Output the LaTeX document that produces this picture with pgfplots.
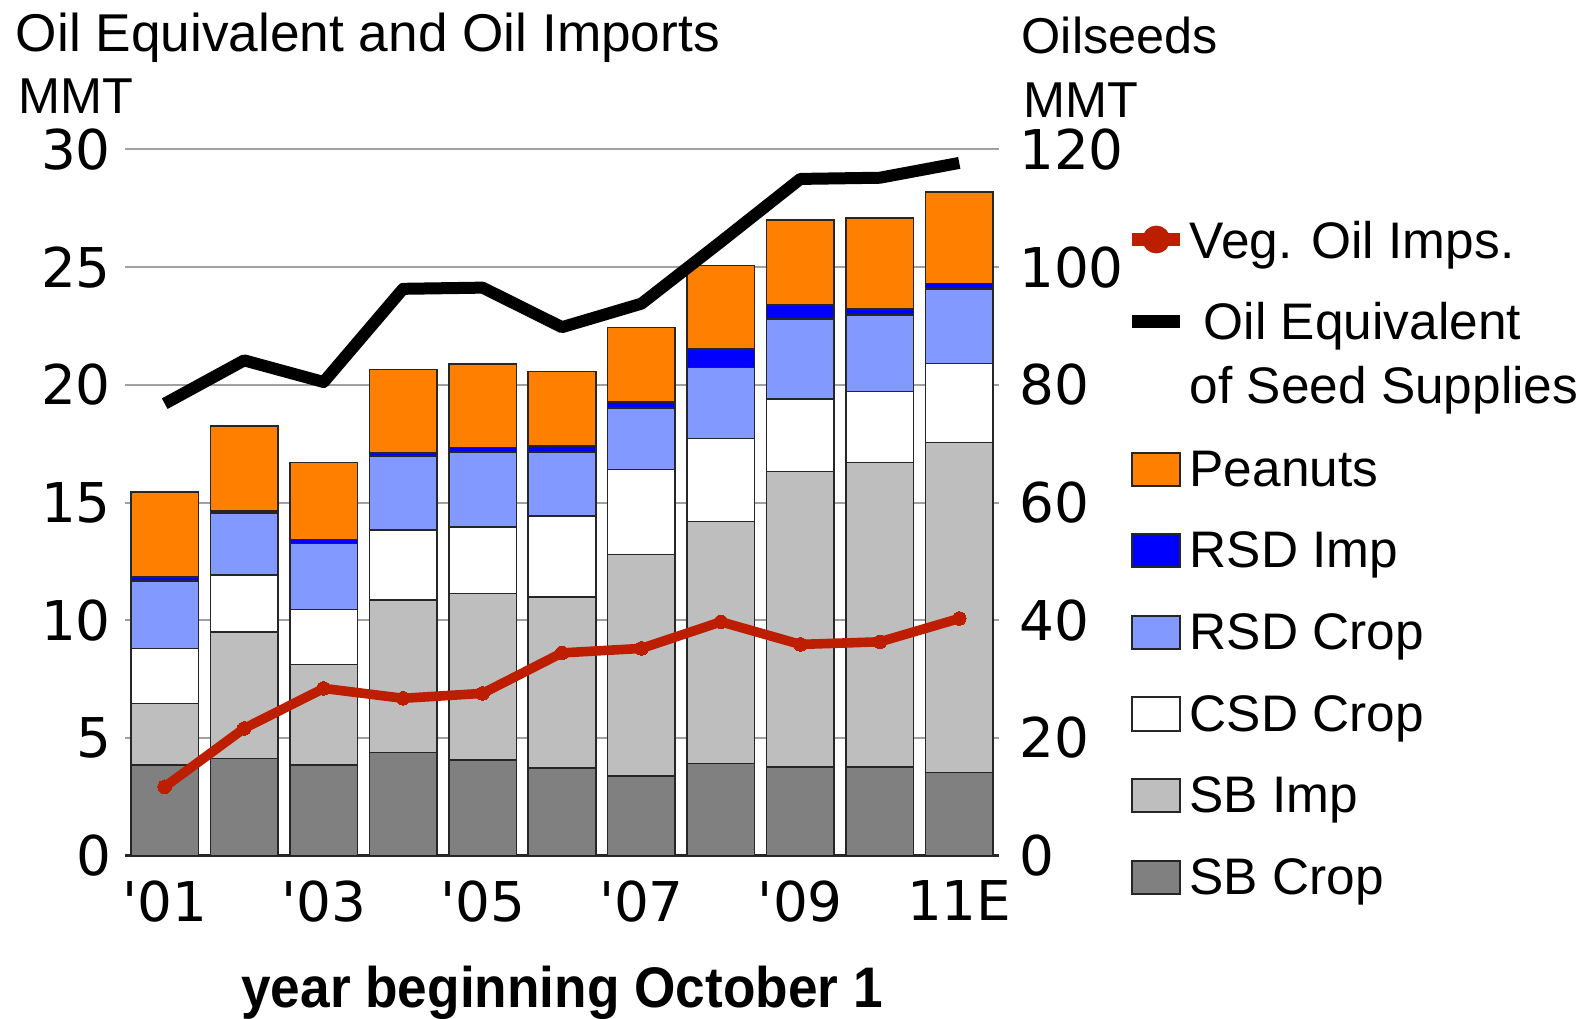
\documentclass[border=0pt]{standalone}
\usepackage{pgfplots}
\pgfplotsset{compat=1.18}
\usepackage{pgfplotstable}
\usepackage{fontspec}
\setmainfont{Liberation Sans}
\newfontfamily\xlabfont[FakeStretch=0.93]{Liberation Sans}
\newfontfamily\tickfam{DejaVu Sans}
\definecolor{sbcrop}{RGB}{128,128,128}
\definecolor{sbimp}{RGB}{190,190,190}
\definecolor{rsdcrop}{RGB}{130,153,255}
\definecolor{rsdimp}{RGB}{0,0,255}
\definecolor{peanut}{RGB}{255,128,0}
\definecolor{vegred}{RGB}{190,30,0}
\definecolor{gridgray}{RGB}{160,160,160}
\newcommand\tickfont{\tickfam\fontsize{13.7}{16}\selectfont}
\newcommand\legfont{\fontsize{12.85}{15}\selectfont}

\pgfplotsset{
  bar legend/.style={legend image code/.code={\draw[##1] (0pt,-4.15pt) rectangle (12pt,4.15pt);}},
  red legend/.style={legend image code/.code={\draw[##1] (0pt,0pt) -- (12pt,0pt); \fill[vegred] (6pt,0pt) circle (1.9pt);}},
  black legend/.style={legend image code/.code={\draw[##1] (0pt,0pt) -- (12pt,0pt);}},
}

\pgfplotstableread{
x sbcrop sbimp csd rsdcrop rsdimp peanut oileq veg
0  3.84  2.62 2.34 2.87 0.17 3.61 19.20 2.92
1  4.13  5.37 2.42 2.64 0.07 3.62 21.04 5.40
2  3.84  4.28 2.33 2.81 0.17 3.27 20.12 7.10
3  4.38  6.47 2.97 3.16 0.12 3.56 24.08 6.68
4  4.06  7.07 2.83 3.19 0.18 3.55 24.13 6.89
5  3.73  7.26 3.44 2.72 0.25 3.17 22.45 8.61
6  3.38  9.41 3.61 2.62 0.25 3.16 23.45 8.80
7  3.91 10.29 3.52 3.01 0.78 3.56 26.08 9.93
8  3.76 12.55 3.10 3.40 0.58 3.62 28.75 8.97
9  3.76 12.94 3.02 3.26 0.23 3.89 28.80 9.08
10 3.53 14.02 3.35 3.16 0.24 3.89 29.43 10.07
}\datatable

\begin{document}
\begin{tikzpicture}
\useasboundingbox (-31.25pt,-40.625pt) rectangle (366.75pt,213.875pt);
% bars
\begin{axis}[
  scale only axis, width=218.5pt, height=176.5pt,
  xmin=-0.5, xmax=10.5, ymin=0, ymax=30,
  ybar stacked, bar width=0.85,
  axis x line*=bottom, axis y line*=left,
  y axis line style={draw=none},
  x axis line style={line width=0.7pt, black!85, -},
  major tick length=0pt,
  xtick={0,2,4,6,8,10},
  xticklabels={\textquotesingle01,\textquotesingle03,\textquotesingle05,\textquotesingle07,\textquotesingle09,11E},
  ytick={0,5,...,30},
  ymajorgrids, major grid style={gridgray, line width=0.5pt},
  tick label style={font=\tickfont},
  /pgf/number format/assume math mode=true,
  xticklabel style={yshift=-2.7pt},
  xlabel={year beginning October 1},
  xlabel style={at={(axis description cs:0.5,0)}, anchor=base, yshift=-38.1pt, inner sep=0pt, font=\fontsize{14.3}{17}\xlabfont\bfseries},
  every axis plot/.append style={draw=black!85, line width=0.4pt},
]
\addplot[fill=sbcrop]  table[x=x,y=sbcrop]{\datatable};
\addplot[fill=sbimp]   table[x=x,y=sbimp]{\datatable};
\addplot[fill=white]   table[x=x,y=csd]{\datatable};
\addplot[fill=rsdcrop] table[x=x,y=rsdcrop]{\datatable};
\addplot[fill=rsdimp]  table[x=x,y=rsdimp]{\datatable};
\addplot[fill=peanut]  table[x=x,y=peanut]{\datatable};
\end{axis}
% lines and legend
\begin{axis}[
  scale only axis, width=218.5pt, height=176.5pt,
  xmin=-0.5, xmax=10.5, ymin=0, ymax=30,
  hide axis, clip=false,
  legend cell align=left,
  legend style={at={(1.1449,0.9303)}, anchor=north west, draw=none, fill=none,
    inner sep=0pt, outer sep=0pt, row sep=0pt, column sep=0.7pt,
    font=\legfont, nodes={inner sep=0pt, text depth={}}},
]
\addplot[black, line width=3pt, line join=round, forget plot] table[x=x,y=oileq]{\datatable};
\addplot[vegred, line width=2.4pt, line join=round, mark=*, mark size=1.7pt, mark options={solid, fill=vegred, draw=vegred, line width=0pt}, forget plot] table[x=x,y=veg]{\datatable};
\addlegendimage{red legend, vegred, line width=3.1pt}
\addlegendentry{\rule[-5.5pt]{0pt}{20.4pt}Veg. Oil Imps.}
\addlegendimage{black legend, black, line width=3.3pt}
\addlegendentry{\rule[-5.5pt]{0pt}{20.4pt}\ Oil Equivalent}
\addlegendimage{empty legend}
\addlegendentry{\rule[-6.3pt]{0pt}{16.6pt}of Seed Supplies}
\addlegendimage{bar legend, fill=peanut, draw=black!85, line width=0.5pt}
\addlegendentry{\rule[-5.9pt]{0pt}{20.4pt}Peanuts}
\addlegendimage{bar legend, fill=rsdimp, draw=black!85, line width=0.5pt}
\addlegendentry{\rule[-5.9pt]{0pt}{20.4pt}RSD Imp}
\addlegendimage{bar legend, fill=rsdcrop, draw=black!85, line width=0.5pt}
\addlegendentry{\rule[-5.9pt]{0pt}{20.4pt}RSD Crop}
\addlegendimage{bar legend, fill=white, draw=black!85, line width=0.5pt}
\addlegendentry{\rule[-5.9pt]{0pt}{20.4pt}CSD Crop}
\addlegendimage{bar legend, fill=sbimp, draw=black!85, line width=0.5pt}
\addlegendentry{\rule[-5.9pt]{0pt}{20.4pt}SB Imp}
\addlegendimage{bar legend, fill=sbcrop, draw=black!85, line width=0.5pt}
\addlegendentry{\rule[-5.9pt]{0pt}{20.4pt}SB Crop}
\end{axis}
% right axis
\begin{axis}[
  scale only axis, width=218.5pt, height=176.5pt,
  xmin=-0.5, xmax=10.5, ymin=0, ymax=120,
  axis x line=none, axis y line*=right,
  y axis line style={draw=none},
  major tick length=0pt,
  ytick={0,20,...,120},
  tick label style={font=\tickfont},
  /pgf/number format/assume math mode=true,
  yticklabel style={xshift=1.5pt},
]
\addplot[draw=none, forget plot] coordinates {(0,0)};
\end{axis}
\node[anchor=base west, inner sep=0pt, font=\fontsize{13.3}{16}\selectfont] at (-27.45pt,201.1pt) {Oil Equivalent and Oil Imports};
\node[anchor=base west, inner sep=0pt, font=\fontsize{12.6}{15}\selectfont] at (-26.7pt,185.55pt) {MMT};
\node[anchor=base west, inner sep=0pt, font=\fontsize{12.6}{15}\selectfont] at (223.95pt,200.55pt) {Oilseeds};
\node[anchor=base west, inner sep=0pt, font=\fontsize{12.6}{15}\selectfont] at (224.5pt,184.55pt) {MMT};
\end{tikzpicture}
\end{document}
